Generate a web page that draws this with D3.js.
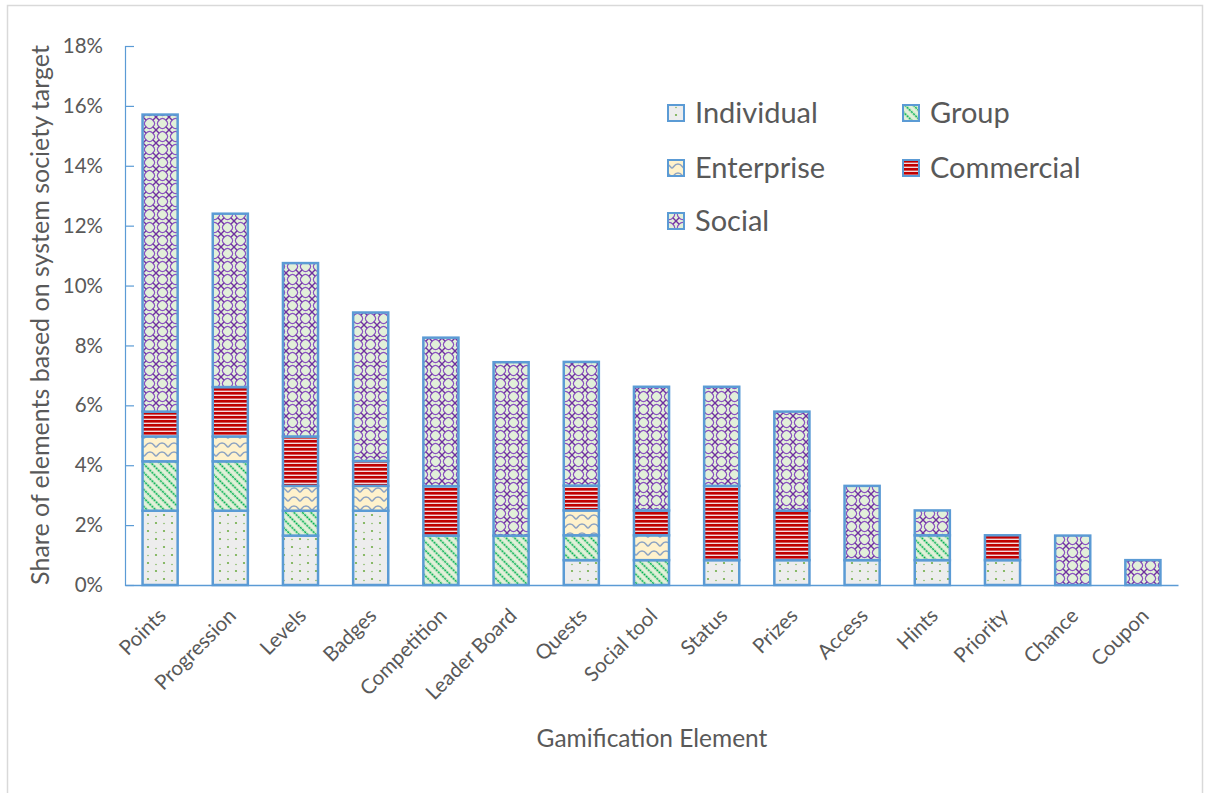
<!DOCTYPE html>
<html><head><meta charset="utf-8">
<script src="https://cdn.jsdelivr.net/npm/d3@7/dist/d3.min.js"></script>
<style>
html,body{margin:0;padding:0;background:#fff;}
svg{display:block;font-family:Lato,"Open Sans",sans-serif;}
</style></head>
<body>
<svg id="chart" width="1207" height="793"></svg>
<script>
const categories = ["Points","Progression","Levels","Badges","Competition","Leader Board","Quests","Social tool","Status","Prizes","Access","Hints","Priority","Chance","Coupon"];
const seriesNames = ["Individual","Group","Enterprise","Commercial","Social"];
const individual = [2.48,2.48,1.65,2.48,0,0,0.83,0,0.83,0.83,0.83,0.83,0.83,0,0];
const group      = [1.65,1.65,0.83,0,1.65,1.65,0.83,0.83,0,0,0,0.83,0,0,0];
const enterprise = [0.83,0.83,0.83,0.83,0,0,0.83,0.83,0,0,0,0,0,0,0];
const commercial = [0.83,1.65,1.65,0.83,1.65,0,0.83,0.83,2.48,1.65,0,0,0.83,0,0];
const social     = [9.92,5.79,5.79,4.96,4.96,5.79,4.13,4.13,3.31,3.31,2.48,0.83,0,1.65,0.83];
const yTicks = [0,2,4,6,8,10,12,14,16,18];

const seriesValues = [individual, group, enterprise, commercial, social];
const patternIds = ["pInd","pGrp","pEnt","pCom","pSoc"];

const svg = d3.select("#chart");
const m = {left:125, right:1178, top:46, bottom:585};
const FONT = "Lato,'Open Sans',sans-serif";

// outer frame
svg.append("rect").attr("x",7.5).attr("y",5.5).attr("width",1195).attr("height",820)
  .attr("fill","none").attr("stroke","#D9D9D9").attr("stroke-width",1.5);

const defs = svg.append("defs");
// Individual: light gray with green dots
let p = defs.append("pattern").attr("id","pInd").attr("patternUnits","userSpaceOnUse").attr("width",16).attr("height",16);
p.append("rect").attr("width",16).attr("height",16).attr("fill","#EDEDED");
[[4,3],[12,11],[12,4.5],[4,11.5]].forEach((d,i)=>p.append("circle").attr("cx",d[0]).attr("cy",d[1]).attr("r",i<2?1.1:0.7).attr("fill","#70AD47"));
// Group: green diagonal dashed lines
p = defs.append("pattern").attr("id","pGrp").attr("patternUnits","userSpaceOnUse").attr("width",6).attr("height",6).attr("patternTransform","rotate(-45)");
p.append("rect").attr("width",6).attr("height",6).attr("fill","#E2F0D9");
p.append("line").attr("x1",1.5).attr("y1",0).attr("x2",1.5).attr("y2",6).attr("stroke","#00B050").attr("stroke-width",1.6).attr("stroke-dasharray","2.2 0.8");
// Enterprise: yellow with waves
p = defs.append("pattern").attr("id","pEnt").attr("patternUnits","userSpaceOnUse").attr("width",12).attr("height",9);
p.append("rect").attr("width",12).attr("height",9).attr("fill","#FFF2CC");
p.append("path").attr("d","M0,6 C1.5,6 2,2 6,2 C10,2 10.5,6 12,6").attr("fill","none").attr("stroke","#8EA4C2").attr("stroke-width",1.5);
// Commercial: red horizontal stripes
p = defs.append("pattern").attr("id","pCom").attr("patternUnits","userSpaceOnUse").attr("width",8).attr("height",4);
p.append("rect").attr("width",8).attr("height",4).attr("fill","#F3D9DC");
p.append("rect").attr("width",8).attr("height",2.6).attr("fill","#C00000");
// Social: light green with purple lattice
p = defs.append("pattern").attr("id","pSoc").attr("patternUnits","userSpaceOnUse").attr("width",13).attr("height",13);
p.append("rect").attr("width",13).attr("height",13).attr("fill","#E2F0D9");
p.append("path").attr("d","M3.2,3.2 Q6.5,-0.5 9.8,3.2 Q13.5,6.5 9.8,9.8 Q6.5,13.5 3.2,9.8 Q-0.5,6.5 3.2,3.2 Z")
  .attr("fill","none").attr("stroke","#8A52C0").attr("stroke-width",1.2);
p.append("path").attr("d","M0,0 L3.2,3.2 M13,0 L9.8,3.2 M0,13 L3.2,9.8 M13,13 L9.8,9.8").attr("stroke","#7030A0").attr("stroke-width",1.4);

const x = d3.scaleBand().domain(categories).range([m.left, m.right]).paddingInner(0.5).paddingOuter(0.25);
const y = d3.scaleLinear().domain([0,18]).range([m.bottom, m.top]);

// stacked data
const rows = categories.map((c,i)=>{ const r={cat:c}; seriesNames.forEach((s,j)=>r[s]=seriesValues[j][i]); return r; });
const stack = d3.stack().keys(seriesNames)(rows);

const gBars = svg.append("g");
stack.forEach((layer,j)=>{
  gBars.selectAll(null).data(layer.filter(d=>d[1]-d[0]>0.001)).enter().append("rect")
    .attr("x",d=>x(d.data.cat))
    .attr("y",d=>y(d[1]))
    .attr("width",x.bandwidth())
    .attr("height",d=>y(d[0])-y(d[1]))
    .attr("fill","url(#"+patternIds[j]+")")
    .attr("stroke","#5B9BD5").attr("stroke-width",2.5);
});

// y axis
const yAxis = svg.append("g").attr("transform",`translate(${m.left},0)`)
  .call(d3.axisLeft(y).tickValues(yTicks).tickFormat(d=>d+"%").tickSize(-9).tickPadding(22));
yAxis.select(".domain").attr("stroke","#5B9BD5").attr("stroke-width",1.2);
yAxis.selectAll(".tick line").attr("stroke","#5B9BD5").attr("stroke-width",1.2);
yAxis.selectAll("text").attr("fill","#595959").style("font-size","20.5px").style("font-family",FONT);

// x axis
const xAxis = svg.append("g").attr("transform",`translate(0,${m.bottom})`)
  .call(d3.axisBottom(x).tickSize(0).tickPadding(0));
xAxis.select(".domain").attr("stroke","#5B9BD5").attr("stroke-width",1.5);
xAxis.selectAll("text")
  .attr("fill","#595959").style("font-size","20.5px").style("font-family",FONT)
  .attr("text-anchor","end").attr("y",0).attr("dy","0.35em")
  .attr("transform","translate(2,27) rotate(-45)");

// axis titles
svg.append("text").attr("x",652).attr("y",747).attr("text-anchor","middle")
  .attr("fill","#595959").style("font-size","24.5px").text("Gamification Element");
svg.append("text").attr("transform","translate(49,315) rotate(-90)").attr("text-anchor","middle")
  .attr("fill","#595959").style("font-size","25px").text("Share of elements based on system society target");

// legend
const legendPos = [[668,113],[903,113],[668,168],[903,168],[668,221]];
const lg = svg.append("g");
seriesNames.forEach((s,j)=>{
  const [lx,ly] = legendPos[j];
  lg.append("rect").attr("x",lx).attr("y",ly-8).attr("width",16).attr("height",16)
    .attr("fill","url(#"+patternIds[j]+")").attr("stroke","#5B9BD5").attr("stroke-width",2);
  lg.append("text").attr("x",lx+27).attr("y",ly).attr("dy","0.35em")
    .attr("fill","#595959").style("font-size","29px").text(s);
});
</script>
</body></html>
